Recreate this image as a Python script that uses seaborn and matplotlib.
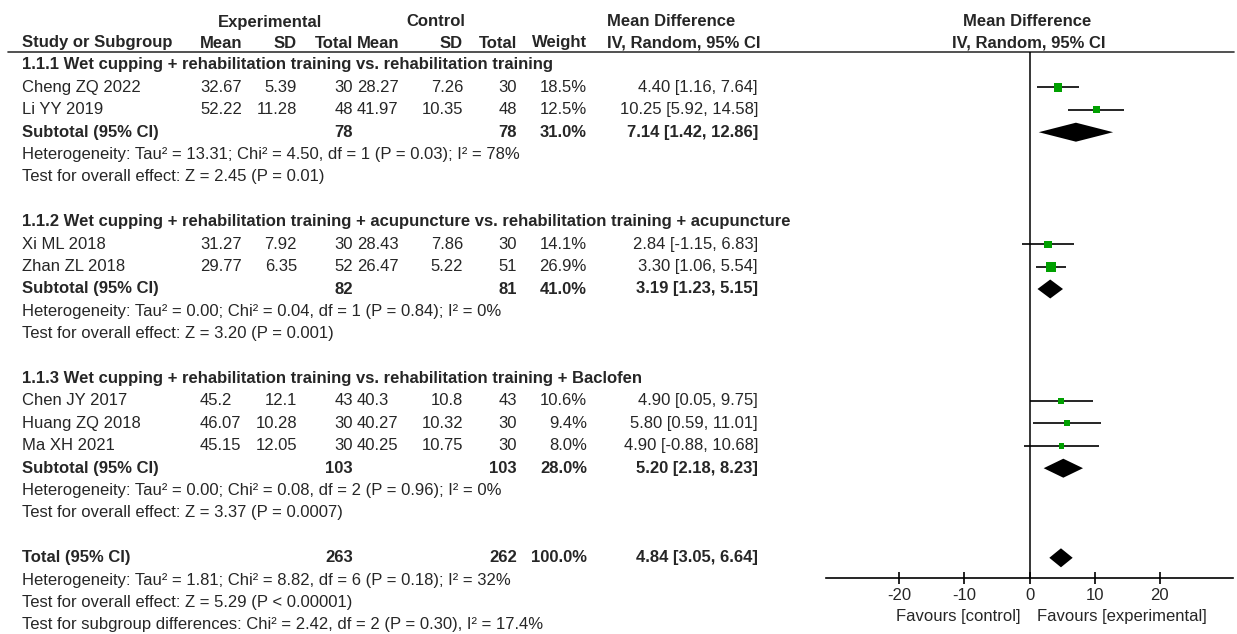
import seaborn as sns
import matplotlib.pyplot as plt
import pandas as pd
import numpy as np

# Studies
studies = ['Cheng ZQ 2022', 'Li YY 2019', 'Xi ML 2018', 'Zhan ZL 2018',
           'Chen JY 2017', 'Huang ZQ 2018', 'Ma XH 2021']
group = [1, 1, 2, 2, 3, 3, 3]
exp_mean = [32.67, 52.22, 31.27, 29.77, 45.2, 46.07, 45.15]
exp_sd = [5.39, 11.28, 7.92, 6.35, 12.1, 10.28, 12.05]
exp_n = [30, 48, 30, 52, 43, 30, 30]
ctl_mean = [28.27, 41.97, 28.43, 26.47, 40.3, 40.27, 40.25]
ctl_sd = [7.26, 10.35, 7.86, 5.22, 10.8, 10.32, 10.75]
ctl_n = [30, 48, 30, 51, 43, 30, 30]
weight = [18.5, 12.5, 14.1, 26.9, 10.6, 9.4, 8.0]
md = [4.40, 10.25, 2.84, 3.30, 4.90, 5.80, 4.90]
md_lo = [1.16, 5.92, -1.15, 1.06, 0.05, 0.59, -0.88]
md_hi = [7.64, 14.58, 6.83, 5.54, 9.75, 11.01, 10.68]

# Subgroups + overall
group_titles = [
    '1.1.1 Wet cupping + rehabilitation training vs. rehabilitation training',
    '1.1.2 Wet cupping + rehabilitation training + acupuncture vs. rehabilitation training + acupuncture',
    '1.1.3 Wet cupping + rehabilitation training vs. rehabilitation training + Baclofen',
]
sub_exp_n = [78, 82, 103]
sub_ctl_n = [78, 81, 103]
sub_weight = [31.0, 41.0, 28.0]
sub_md = [7.14, 3.19, 5.20]
sub_lo = [1.42, 1.23, 2.18]
sub_hi = [12.86, 5.15, 8.23]
sub_het = [
    'Heterogeneity: Tau² = 13.31; Chi² = 4.50, df = 1 (P = 0.03); I² = 78%',
    'Heterogeneity: Tau² = 0.00; Chi² = 0.04, df = 1 (P = 0.84); I² = 0%',
    'Heterogeneity: Tau² = 0.00; Chi² = 0.08, df = 2 (P = 0.96); I² = 0%',
]
sub_test = [
    'Test for overall effect: Z = 2.45 (P = 0.01)',
    'Test for overall effect: Z = 3.20 (P = 0.001)',
    'Test for overall effect: Z = 3.37 (P = 0.0007)',
]
total_n = [263, 262]
total_md, total_lo, total_hi = 4.84, 3.05, 6.64
total_notes = [
    'Heterogeneity: Tau² = 1.81; Chi² = 8.82, df = 6 (P = 0.18); I² = 32%',
    'Test for overall effect: Z = 5.29 (P < 0.00001)',
    'Test for subgroup differences: Chi² = 2.42, df = 2 (P = 0.30), I² = 17.4%',
]
x_ticks = [-20, -10, 0, 10, 20]

sns.set_theme(style='white')
plt.rcParams['font.family'] = ['Liberation Sans', 'DejaVu Sans']
plt.rcParams['axes.unicode_minus'] = False

W, H = 1237, 634
fig = plt.figure(figsize=(W / 100, H / 100), dpi=100)
ax = fig.add_axes([0, 0, 1, 1])
ax.set_xlim(0, W)
ax.set_ylim(H, 0)
ax.axis('off')

fs = 12
tc = '#262626'

# row layout (pixel rows)
step = 22.4
y = 65
rows_study, rows_sub, rows_title = [], [], []
rows_het, rows_test = [], []
for g in range(3):
    rows_title.append(y)
    y += step
    for i in range(group.count(g + 1)):
        rows_study.append(y)
        y += step
    rows_sub.append(y)
    y += step
    rows_het.append(y)
    y += step
    rows_test.append(y)
    y += 2 * step
row_total = y

# column positions
c_study = 22
c_emean = 200
c_esd = 297
c_en = 353
c_cmean = 357
c_csd = 463
c_cn = 517
c_w = 587
c_md = 758
c_mdh = 607


def txt(x, yy, s, ha='left', bold=False):
    ax.text(x, yy, s, ha=ha, va='center', fontsize=fs, color=tc,
            fontweight='bold' if bold else 'normal')


# header
txt(270, 22, 'Experimental', 'center', True)
txt(436, 22, 'Control', 'center', True)
txt(c_mdh, 22, 'Mean Difference', bold=True)
txt(1027, 22, 'Mean Difference', 'center', True)
hy = 43
txt(c_study, hy, 'Study or Subgroup', bold=True)
txt(c_emean, hy, 'Mean', bold=True)
txt(c_esd, hy, 'SD', 'right', True)
txt(c_en, hy, 'Total', 'right', True)
txt(c_cmean, hy, 'Mean', bold=True)
txt(c_csd, hy, 'SD', 'right', True)
txt(c_cn, hy, 'Total', 'right', True)
txt(c_w, hy, 'Weight', 'right', True)
txt(c_mdh, hy, 'IV, Random, 95% CI', bold=True)
txt(1029, hy, 'IV, Random, 95% CI', 'center', True)
ax.plot([8, 1234], [52, 52], color='#333333', lw=1.2)

for i, s in enumerate(studies):
    yy = rows_study[i]
    txt(c_study, yy, s)
    txt(c_emean, yy, f'{exp_mean[i]:g}')
    txt(c_esd, yy, f'{exp_sd[i]:g}', 'right')
    txt(c_en, yy, str(exp_n[i]), 'right')
    txt(c_cmean, yy, f'{ctl_mean[i]:g}')
    txt(c_csd, yy, f'{ctl_sd[i]:g}', 'right')
    txt(c_cn, yy, str(ctl_n[i]), 'right')
    txt(c_w, yy, f'{weight[i]:.1f}%', 'right')
    txt(c_md, yy, f'{md[i]:.2f} [{md_lo[i]:.2f}, {md_hi[i]:.2f}]', 'right')

for g in range(3):
    txt(c_study, rows_title[g], group_titles[g], bold=True)
    yy = rows_sub[g]
    txt(c_study, yy, 'Subtotal (95% CI)', bold=True)
    txt(c_en, yy, str(sub_exp_n[g]), 'right', True)
    txt(c_cn, yy, str(sub_ctl_n[g]), 'right', True)
    txt(c_w, yy, f'{sub_weight[g]:.1f}%', 'right', True)
    txt(c_md, yy, f'{sub_md[g]:.2f} [{sub_lo[g]:.2f}, {sub_hi[g]:.2f}]', 'right', True)
    txt(c_study, rows_het[g], sub_het[g])
    txt(c_study, rows_test[g], sub_test[g])

txt(c_study, row_total, 'Total (95% CI)', bold=True)
txt(c_en, row_total, str(total_n[0]), 'right', True)
txt(c_cn, row_total, str(total_n[1]), 'right', True)
txt(c_w, row_total, '100.0%', 'right', True)
txt(c_md, row_total, f'{total_md:.2f} [{total_lo:.2f}, {total_hi:.2f}]', 'right', True)
for j, s in enumerate(total_notes):
    txt(c_study, row_total + (j + 1) * step, s)

# forest panel
x0, x1, y_top, y_axis = 826, 1233, 52, 578
fx = fig.add_axes([x0 / W, (H - y_axis) / H, (x1 - x0) / W, (y_axis - y_top) / H])
fx.set_xlim(-31.3, 31.3)
fx.set_ylim(y_axis, y_top)
fx.patch.set_alpha(0)
for sp in ['left', 'right', 'top']:
    fx.spines[sp].set_visible(False)
fx.spines['bottom'].set_color('black')
fx.spines['bottom'].set_linewidth(1.2)
fx.axvline(0, color='black', lw=1.1)

df = pd.DataFrame({'md': md, 'lo': md_lo, 'hi': md_hi, 'w': weight, 'y': rows_study})
fx.hlines(df['y'], df['lo'], df['hi'], color='black', lw=1.2)
sns.scatterplot(data=df, x='md', y='y', size='w', sizes=(0, 193), size_norm=(0, 100),
                marker='s', color='#00a000', edgecolor='none', legend=False, ax=fx, zorder=3)

dh = 9.5
for g in range(3):
    yy = rows_sub[g]
    fx.fill([sub_lo[g], sub_md[g], sub_hi[g], sub_md[g]], [yy, yy - dh, yy, yy + dh],
            color='black', lw=0)
fx.fill([total_lo, total_md, total_hi, total_md],
        [row_total, row_total - dh, row_total, row_total + dh], color='black', lw=0)

fx.set_xticks(x_ticks)
fx.set_yticks([])
fx.tick_params(axis='x', direction='inout', length=8, width=1.2, color='black',
               labelsize=fs, labelcolor=tc, pad=3, bottom=True)
fx.set_xlabel('')
fx.set_ylabel('')

ax.text(1021, 616, 'Favours [control]', ha='right', va='center', fontsize=fs, color=tc)
ax.text(1037, 616, 'Favours [experimental]', ha='left', va='center', fontsize=fs, color=tc)

fig.savefig('out.png', dpi=100)
